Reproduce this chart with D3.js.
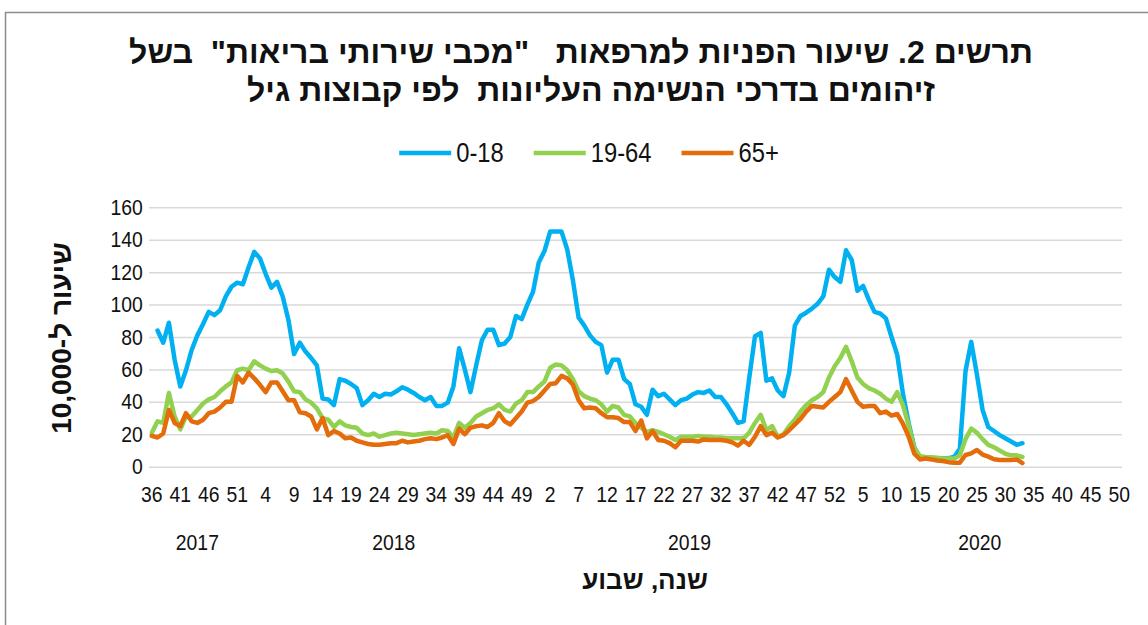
<!DOCTYPE html>
<html>
<head>
<meta charset="UTF-8">
<title>Maccabi referrals chart</title>
<script src="https://d3js.org/d3.v7.min.js"></script>
<style>
  body { margin: 0; background: #fff; }
  text { fill: #111; }
  .num { font-family: "Liberation Sans Narrow", "Liberation Sans", Arial, sans-serif; }
  .heb { font-family: "Liberation Sans", Arial, sans-serif; font-weight: bold; white-space: pre; }
  .grid line { stroke: #d9d9d9; stroke-width: 1.5; }
  .series { fill: none; stroke-width: 4.5; stroke-linejoin: round; stroke-linecap: round; }
</style>
</head>
<body>
<script>
// categories: year, first week, last week
var yearWeeks = [[2017, 36, 52], [2018, 1, 52], [2019, 1, 52], [2020, 1, 50]];
var yTicks = [0, 20, 40, 60, 80, 100, 120, 140, 160];
var titleLines = ['תרשים 2. שיעור הפניות למרפאות   "מכבי שירותי בריאות"  בשל',
                  'זיהומים בדרכי הנשימה העליונות  לפי קבוצות גיל'];
var yTitle = 'שיעור ל-10,000';
var xTitle = 'שנה, שבוע';
var seriesNames = ["0-18", "19-64", "65+"];
var seriesColors = ["#00b0f0", "#92d050", "#e46c0a"];

// rate per 10,000, weekly from 2017 w36 (blue has no first value)
var age0_18 = [
  null, 84, 76.5, 88.8, 66, 49.5, 59.5, 72, 81, 88,
  95.5, 93.5, 96.5, 105, 111, 113.5, 112.5, 123, 132.5, 128.5,
  119, 110.5, 114, 105, 90.5, 69.5, 76.5, 71, 67, 62.5,
  42, 41.5, 38, 54, 53, 51, 48.5, 38, 41, 45,
  43, 45, 44.5, 46.5, 49, 47.5, 45.5, 43, 41, 43,
  37.5, 37.5, 39.5, 49.5, 73, 60, 46, 62.5, 78, 84.5,
  84.5, 75, 76, 80, 93, 91, 100, 108, 126, 133,
  145, 145, 145, 134, 115, 92, 87, 81, 77, 75,
  58, 66, 66, 54, 51, 38.5, 37, 32, 47.5, 43.5,
  45, 41.5, 38, 41, 42, 44.5, 46, 45.5, 47, 43,
  43, 38.5, 33, 27, 28, 55, 80.5, 82.5, 53, 54.5,
  47, 43.5, 58, 87, 93, 95, 97.5, 100.5, 105, 121.5,
  117, 114, 133.5, 127.5, 108.5, 111.5, 103, 95.5, 94.5, 91.5,
  80, 69, 45, 27, 12, 5.5, 5, 5, 5, 5,
  5.3, 6, 11, 59, 77, 57, 35, 24.5, 22, 19.5,
  17.5, 15.5, 13.5, 14.5
];
var age19_64 = [
  21, 28, 27, 45.5, 31, 23, 31, 31, 35, 39,
  41.5, 43, 46.5, 49.5, 52, 59.5, 60.5, 59.5, 65, 62.5,
  60.5, 59, 59.5, 57.5, 52.5, 46.5, 46, 41.5, 39.5, 36,
  30, 29, 24.5, 28, 25.5, 24.5, 24, 20.5, 19.5, 20.5,
  18.5, 19.5, 20.5, 21, 20.5, 20, 19.5, 20, 20.5, 21,
  20.5, 22.5, 22, 18, 27, 24, 27, 31, 33, 35,
  36, 38.5, 35, 34, 39, 41, 46, 46, 49.5, 52.5,
  61, 63, 62.5, 59.5, 54, 46.5, 43.5, 42, 41, 38.5,
  34, 37.5, 36.5, 32, 31, 27, 24, 21.5, 22.5, 21.5,
  20, 18.5, 16.5, 18.5, 18.5, 18.5, 19, 18.5, 18.5, 18,
  18, 17.5, 17.5, 17.5, 17.5, 21, 27, 32, 22.5, 25,
  18.5, 20, 25, 29, 34, 38, 41, 43, 46, 55,
  62, 67, 74, 65, 55, 51, 48.5, 47, 45, 42,
  40, 46, 38, 25.5, 11.5, 6.5, 6, 5.8, 5.5, 5,
  5, 5, 7, 17, 23.5, 21, 17, 13.5, 12, 10,
  8, 7, 7, 6
];
var age65 = [
  19, 18, 20.5, 35, 27, 25, 33, 28, 27, 29,
  33, 34, 36.5, 40, 40, 56, 52, 58, 54.5, 50.5,
  46, 52, 52, 46.5, 41, 41, 33.5, 33, 31, 23,
  30, 19.5, 22, 20.5, 17.5, 18, 16, 15, 14, 13.5,
  13.5, 14, 14.5, 14.5, 16, 15, 15.5, 16, 17, 17.5,
  17, 18, 19.5, 14, 23.5, 20, 24, 25, 25.5, 24.5,
  27, 33, 28, 26, 30, 34, 39.5, 40.5, 43, 47,
  51, 51.5, 56, 54.5, 50.5, 41, 36, 36.5, 36, 33,
  30.5, 30.5, 30, 27.5, 27.5, 22, 28.5, 17.5, 22, 16.5,
  16, 14.5, 12, 16, 16, 16, 15.5, 16.8, 16.5, 16.5,
  16.5, 16, 15, 13, 16, 13.5, 18.5, 25, 19.5, 21,
  18, 19.5, 22.5, 26, 29.5, 34, 37.5, 37, 36.5, 40,
  43, 46, 54, 47, 40, 37, 37.5, 37.5, 33, 34,
  31.5, 32.5, 26.5, 18.5, 8, 4.5, 5, 4.5, 3.8, 3.5,
  2.8, 2.5, 2.5, 7.2, 8.2, 10.3, 7.5, 6.2, 4.6, 4.1,
  4.1, 4.1, 4.5, 2.2
];
var seriesValues = [age0_18, age19_64, age65];

var width = 1148, height = 625;
var plot = {left: 149, right: 1122, top: 207.3, bottom: 466.7};
var squeeze = "scale(0.88,1)"; // numbers in the picture are narrow

var cats = [];
yearWeeks.forEach(function (yw) {
  for (var w = yw[1]; w <= yw[2]; w++) cats.push({year: yw[0], week: w, key: yw[0] + "-" + w});
});

var svg = d3.select("body").append("svg")
  .attr("width", width)
  .attr("height", height);

// chart frame
svg.append("rect")
  .attr("x", 5.5).attr("y", 12.5)
  .attr("width", 1200).attr("height", 700)
  .attr("fill", "none").attr("stroke", "#8c8c8c").attr("stroke-width", 1.5);

var x = d3.scaleBand()
  .domain(cats.map(function (c) { return c.key; }))
  .range([plot.left, plot.right]);
var y = d3.scaleLinear()
  .domain([0, 160])
  .range([plot.bottom, plot.top]);

// gridlines + y labels
var yAxis = svg.append("g")
  .attr("class", "grid num")
  .attr("transform", "translate(" + plot.left + ",0)")
  .call(d3.axisLeft(y).tickValues(yTicks).tickSize(-(plot.right - plot.left)).tickPadding(7));
yAxis.select(".domain").remove();
yAxis.selectAll("text").attr("font-size", 22).attr("font-family", null)
  .attr("transform", squeeze).style("fill", "#111");

// week labels
var xAxis = svg.append("g")
  .attr("class", "num")
  .attr("transform", "translate(0," + plot.bottom + ")")
  .call(d3.axisBottom(x)
    .tickValues(cats.filter(function (c, i) { return i % 5 === 0; }).map(function (c) { return c.key; }))
    .tickFormat(function (k) { return k.split("-")[1]; })
    .tickSize(0).tickPadding(20));
xAxis.select(".domain").remove();
xAxis.selectAll("text").attr("font-size", 22).attr("font-family", null)
  .attr("transform", squeeze).style("fill", "#111");

// year labels centred on their weeks
yearWeeks.forEach(function (yw) {
  var first = x(yw[0] + "-" + yw[1]), last = x(yw[0] + "-" + yw[2]) + x.bandwidth();
  svg.append("text").attr("class", "num")
    .attr("transform", "translate(" + ((first + last) / 2) + ",550) " + squeeze)
    .attr("text-anchor", "middle").attr("font-size", 22)
    .text(yw[0]);
});

// lines
var line = d3.line()
  .defined(function (d) { return d.v !== null; })
  .x(function (d) { return x(d.key) + x.bandwidth() / 2; })
  .y(function (d) { return y(d.v); });

seriesValues.forEach(function (vals, s) {
  var pts = vals.map(function (v, i) { return {key: cats[i].key, v: v}; });
  svg.append("path")
    .attr("class", "series")
    .attr("stroke", seriesColors[s])
    .attr("d", line(pts));
});

// title
titleLines.forEach(function (t, i) {
  svg.append("text").attr("class", "heb")
    .attr("x", i === 0 ? 581 : 591).attr("y", i === 0 ? 63 : 101)
    .attr("direction", "rtl").attr("text-anchor", "middle")
    .attr("font-size", 32)
    .text(t);
});

// legend
var legend = svg.append("g");
var lx = 0, gap = 30;
seriesNames.forEach(function (n, s) {
  legend.append("line")
    .attr("x1", lx).attr("x2", lx + 52).attr("y1", 153).attr("y2", 153)
    .attr("stroke", seriesColors[s]).attr("stroke-width", 4.5);
  var t = legend.append("text").attr("class", "num")
    .attr("transform", "translate(" + (lx + 57) + ",162) " + squeeze)
    .attr("font-size", 27)
    .text(n);
  lx += 57 + t.node().getComputedTextLength() * 0.88 + gap;
});
var lw = lx - gap;
legend.attr("transform", "translate(" + (589 - lw / 2) + ",0)");

// axis titles
svg.append("text").attr("class", "heb")
  .attr("transform", "translate(71,338) rotate(-90)")
  .attr("direction", "rtl").attr("text-anchor", "middle")
  .attr("font-size", 28)
  .text(yTitle);
svg.append("text").attr("class", "heb")
  .attr("x", 645).attr("y", 589)
  .attr("direction", "rtl").attr("text-anchor", "middle")
  .attr("font-size", 26)
  .text(xTitle);
</script>
</body>
</html>
